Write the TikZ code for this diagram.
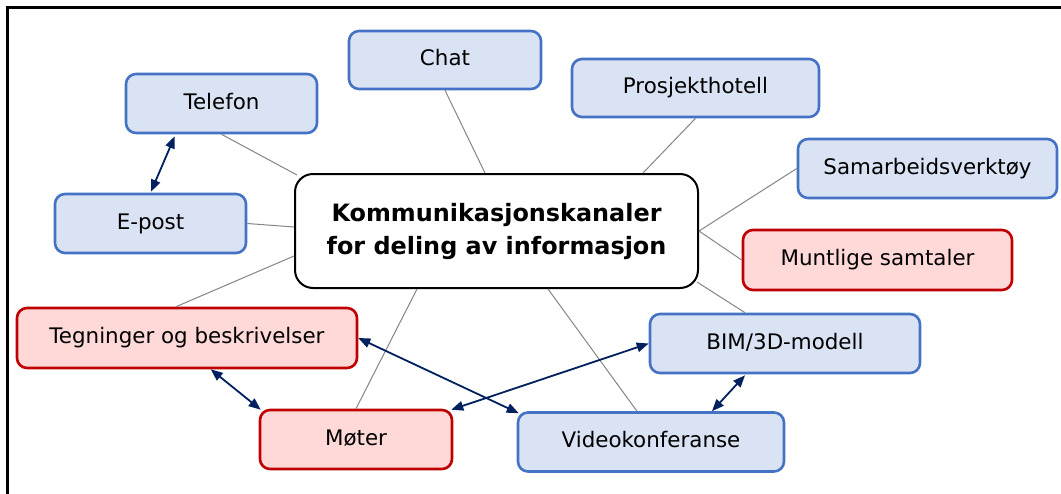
\documentclass[tikz,border=0pt]{standalone}
\usepackage{fontspec}
\setmainfont{DejaVu Sans}
\usetikzlibrary{arrows.meta,calc}

\definecolor{boxblue}{HTML}{DAE3F3}
\definecolor{edgeblue}{HTML}{4472C4}
\definecolor{boxred}{HTML}{FFD8D8}
\definecolor{edgered}{HTML}{C00000}
\definecolor{navy}{HTML}{002060}
\definecolor{linkgrey}{HTML}{858585}

\tikzset{
  chan/.style={rounded corners=10pt, line width=2.6pt, inner sep=0pt,
    font=\fontsize{21.4}{25}\selectfont, text height=15.8pt, text depth=4.6pt},
  digital/.style={chan, draw=edgeblue, fill=boxblue},
  oral/.style={chan, draw=edgered, fill=boxred},
  hub/.style={rounded corners=18pt, line width=2pt, draw=black, fill=white,
    inner sep=0pt, align=center,
    font=\fontsize{23.9}{33}\selectfont\bfseries},
  link/.style={draw=linkgrey, line width=1pt},
  pair/.style={draw=navy, line width=1.8pt,
    {Triangle[length=12pt,width=9.5pt]}-{Triangle[length=12pt,width=9.5pt]}}
}

\begin{document}
\begin{tikzpicture}[x=1pt,y=-1pt]
\clip (0,0) rectangle (1061,493);
\fill[white] (0,0) rectangle (1061,493);

% outer frame
\draw[line width=2.5pt] (7.3,7.3) rectangle (1080,520);

% channels
\node[digital, minimum width=191pt, minimum height=59pt] (tel)   at (221.5,103.5) {Telefon};
\node[digital, minimum width=191pt, minimum height=59pt] (epost) at (150.5,223.5) {E-post};
\node[digital, minimum width=192pt, minimum height=58pt] (chat)  at (445,60)      {Chat};
\node[digital, minimum width=247pt, minimum height=58pt] (pro)   at (695.5,88)    {Prosjekthotell};
\node[digital, minimum width=259pt, minimum height=59pt] (sam)   at (927.5,168.5) {Samarbeidsverktøy};
\node[oral,    minimum width=269pt, minimum height=60pt] (munt)  at (877.5,260)   {Muntlige samtaler};
\node[oral,    minimum width=340pt, minimum height=60pt] (tegn)  at (187,338)     {Tegninger og beskrivelser};
\node[oral,    minimum width=192pt, minimum height=59pt] (moter) at (356,439.5)   {Møter};
\node[digital, minimum width=270pt, minimum height=59pt] (bim)   at (785,343.5)   {BIM/3D-modell};
\node[digital, minimum width=266pt, minimum height=59pt] (video) at (651,442)     {Videokonferanse};

% central topic
\node[hub, minimum width=403pt, minimum height=114pt] (hub) at (496.5,231)
  {Kommunikasjonskanaler\\for deling av informasjon};

% links from the channels to the central topic
\draw[link] (tel.south) -- ($(hub.north west)+(3,2)$);
\draw[link] (epost.east) -- ($(hub.west)+(0,-4)$);
\draw[link] (chat.south) -- ($(hub.north)+(-11.5,0)$);
\draw[link] (pro.south) -- ($(hub.north)+(146.5,0)$);
\draw[link] (sam.west) -- (hub.east);
\draw[link] (munt.west) -- (hub.east);
\draw[link] ($(bim.north)+(-40,0)$) -- ($(hub.south east)+(-2,-7)$);
\draw[link] ($(video.north)+(-14,0)$) -- ($(hub.south)+(51.5,0)$);
\draw[link] (moter.north) -- ($(hub.south)+(-79.5,0)$);
\draw[link] ($(tegn.north)+(-11,0)$) -- ($(hub.west)+(0,25)$);

% two-way relations between channels
\draw[pair] ($(tel.south west)+(50,2)$) -- ($(epost.north west)+(97.3,-1)$);
\draw[pair] ($(tegn.south west)+(195,0)$) -- ($(moter.north west)+(2,1)$);
\draw[pair] (tegn.east) -- ($(video.north west)+(2,2)$);
\draw[pair] ($(moter.north east)+(-2,1)$) -- (bim.west);
\draw[pair] ($(bim.south)+(-40,1)$) -- ($(video.north)+(61,0)$);
\end{tikzpicture}
\end{document}
